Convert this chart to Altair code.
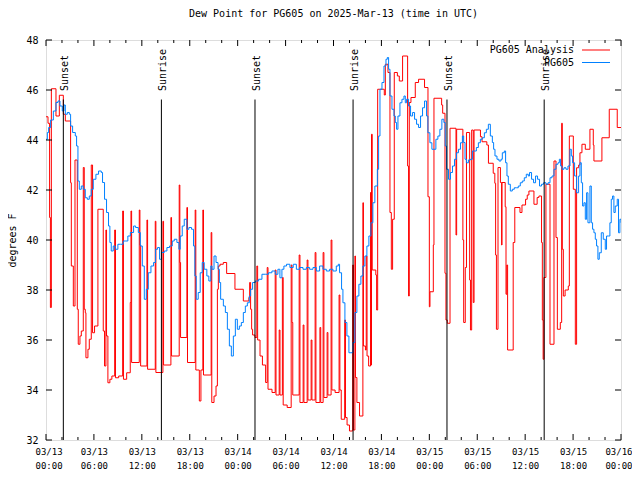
import altair as alt
import pandas as pd

FONT = "DejaVu Sans Mono"
title_text = "Dew Point for PG605 on 2025-Mar-13 (time in UTC)"
y_title = "degrees F"
series_names = ["PG605 Analysis", "PG605"]
series_colors = ["#ff0000", "#0080ff"]

x_tick_hours = list(range(0, 73, 6))
x_minor_hours = [h for h in range(0, 73, 2) if h % 6 != 0]
y_tick_values = list(range(32, 49, 2))

sun_hours = [2.17, 14.45, 26.17, 38.45, 50.21, 62.38]
sun_labels = ["Sunset", "Sunrise", "Sunset", "Sunrise", "Sunset", "Sunrise"]

red_t = [0.0, 0.25, 0.45, 0.55, 0.67, 1.25, 1.67, 2.17, 2.42, 3.08, 3.17, 3.42, 3.63, 3.92, 4.04, 4.25, 4.42, 4.67, 4.79, 4.92,
         5.0, 5.25, 5.42, 5.67, 5.83, 6.08, 6.5, 7.17, 7.33, 7.5, 7.58, 7.75, 8.0, 8.25, 8.6, 8.7, 9.1, 9.6, 9.7, 10.1,
         10.55, 10.64, 10.72, 11.68, 11.76, 11.85, 12.64, 12.72, 13.68, 13.76, 14.64, 14.72, 15.64, 15.72, 16.68, 16.76, 16.85,
         17.64, 17.72, 18.68, 18.76, 19.2, 19.4, 19.64, 19.72, 20.68, 20.76,
         21.04, 21.29, 21.46, 21.58, 21.79, 22.2, 22.62, 23.66, 24.71, 25.4, 25.5, 25.62, 25.75, 25.87, 26.17,
         26.4, 26.5, 26.8, 27.1, 27.5, 27.7, 27.8, 28.3, 28.7, 28.8, 29.2, 29.3, 29.6, 29.7, 30.2, 30.7, 30.8, 30.9,
         31.7, 31.8, 32.2, 32.3, 32.7, 32.8, 33.2, 33.3, 33.7, 33.8, 34.3, 34.4, 34.7, 34.8, 35.2, 35.3, 35.7, 35.8,
         36.2, 36.7, 36.8, 36.97, 37.4, 37.5, 37.7, 38.0, 38.4, 38.5, 38.68, 38.75, 38.93, 39.26, 39.68, 39.75, 40.0,
         40.1, 40.2, 40.4, 40.64, 40.7, 40.76, 40.85, 41.3, 41.4,
         41.53, 42.36, 42.49, 42.82, 43.07, 43.24, 43.4, 43.61, 44.0, 44.24, 44.65, 45.28, 45.4, 45.49, 45.7, 46.24,
         46.65, 47.4, 47.83, 48.0, 48.08, 48.5, 48.58, 49.54, 49.67, 49.96, 50.08, 50.25, 50.59, 51.34, 51.42, 52.2,
         52.3, 52.5, 52.65, 53.05, 53.15, 53.3, 53.5, 53.6, 54.4, 54.6, 55.2, 55.4, 56.0, 56.2, 56.3, 56.4, 56.6, 56.9,
         57.05, 57.1, 57.5, 57.6, 57.7, 57.8, 58.5, 58.7, 59.35, 59.6, 60.05, 60.26, 60.47, 61.1, 61.5, 61.72, 62.05,
         62.15, 62.25, 62.35, 62.6, 63.11, 63.61, 63.86, 64.03, 64.4, 64.57, 64.65, 64.78, 65.0, 65.4, 65.53, 66.03,
         66.28, 66.44, 66.7, 66.86, 67.11, 67.53, 68.11, 68.53, 68.61, 69.61, 70.53, 71.53, 72.0]
red_v = [44.93, 44.67, 40.9, 37.3, 46.05, 44.96, 45.79, 45.03, 44.76, 42.29, 38.96, 37.36, 43.2, 37.23, 35.83, 36.16, 36.36, 42.9, 37.23, 37.09,
         35.29, 35.63, 36.03, 43.0, 36.29, 36.56, 41.23, 36.36, 34.96, 40.4, 36.16, 34.29, 34.43, 34.56, 40.4, 34.49, 34.56, 41.16, 34.43, 34.69,
         37.5, 41.16, 35.1, 41.2, 39.8, 34.96, 40.8, 34.83, 40.75, 34.7, 40.75, 35.0, 40.9, 35.36, 42.2, 39.1, 36.1,
         41.3, 35.1, 41.2, 34.8, 33.56, 34.8, 41.2, 34.6, 40.3, 33.5,
         33.76, 34.16, 38.03, 38.96, 39.03, 39.1, 38.66, 38.03, 37.56, 37.7, 38.3, 37.23, 36.43, 36.2, 36.1,
         38.96, 36.0, 35.36, 35.0, 34.3, 38.9, 34.03, 33.9, 38.8, 33.8, 36.4, 33.8, 38.5, 33.4, 33.3, 39.0, 36.7, 33.8,
         39.4, 33.5, 36.6, 33.5, 39.2, 33.6, 36.0, 33.6, 39.5, 33.5, 36.5, 33.5, 39.5, 33.7, 36.3, 33.8, 40.0, 34.0,
         33.9, 37.8, 34.0, 32.83, 36.8, 32.9, 32.6, 32.36, 39.0, 32.4, 39.36, 34.5, 33.5, 32.96, 41.49, 35.76, 35.6,
         39.36, 35.36, 34.96, 41.9, 35.0, 44.23, 38.8, 38.6, 37.2,
         46.03, 45.8, 47.03, 46.7, 41.1, 38.83, 40.83, 46.7, 46.56, 46.36, 47.36, 42.96, 37.76, 45.5, 45.7, 46.3,
         46.43, 46.1, 41.73, 37.33, 37.93, 39.8, 45.67, 45.4, 45.07, 38.67, 36.8, 36.67, 44.47, 40.2, 44.43, 40.0,
         36.7, 38.9, 44.3, 38.4, 36.4, 44.4, 37.5, 44.4, 44.13, 43.93, 43.8, 43.07, 42.67, 42.27, 39.4, 36.43, 42.9, 42.3,
         39.8, 42.3, 41.33, 37.83, 39.0, 35.6, 39.9, 41.3, 41.1, 41.4, 41.63, 41.8, 41.96, 41.43, 41.7, 41.76, 39.9,
         36.8, 35.23, 38.5, 42.23, 35.83, 43.16, 40.1, 36.43, 36.7, 44.67, 39.63, 37.76, 38.0, 38.16, 44.16, 42.03,
         35.83, 42.89, 43.0, 43.49, 43.83, 43.63, 44.43, 43.8, 43.16, 44.09, 45.23, 44.5, 44.5]

blue_t = [0.0, 0.17, 0.33, 0.58, 0.92, 1.25, 1.5, 1.75, 2.04, 2.25, 2.42, 2.67, 2.92, 3.08, 3.33, 3.67, 3.83, 4.0, 4.17, 4.42,
          4.67, 4.92, 5.17, 5.42, 5.67, 5.92, 6.25, 6.58, 6.92, 7.08, 7.33, 7.58, 7.83, 8.0, 8.17, 8.42, 8.67, 9.0, 9.33, 9.67,
          10.0, 10.25, 10.56, 10.97, 11.22, 11.56, 11.81, 12.06, 12.31, 12.56, 12.81, 13.14, 13.47, 13.72, 13.97, 14.22, 14.47,
          14.81, 15.14, 15.47, 15.81, 16.06, 16.39, 16.64, 16.81, 17.06, 17.31, 17.64, 17.89, 18.22, 18.47, 18.64, 18.81, 19.06,
          19.31, 19.56, 19.81, 20.14, 20.39, 20.64, 20.79, 21.04, 21.29, 21.54, 21.71, 21.87, 22.21, 22.46, 22.71, 22.96, 23.21,
          23.46, 23.71, 23.96, 24.21, 24.46, 24.71, 24.96, 25.21, 25.46, 25.62, 25.87, 26.21, 26.62, 27.04, 27.46, 27.87, 28.29,
          28.71, 29.04, 29.29, 29.54, 29.79, 30.12, 30.54, 30.96, 31.35, 31.76, 32.18, 32.6, 33.01, 33.43, 33.85, 34.26, 34.68,
          35.1, 35.51, 35.93, 36.35, 36.6, 36.76, 37.01, 37.18, 37.43, 37.68, 37.93, 38.18, 38.43, 38.68, 38.93, 39.18, 39.43,
          39.68, 39.93, 40.18, 40.43, 40.68, 40.93, 41.18, 41.49, 41.65, 41.82, 42.07, 42.32, 42.57, 42.74, 42.9, 43.07, 43.32,
          43.57, 43.74, 43.9, 44.07, 44.32, 44.57, 44.82, 44.99, 45.15, 45.4, 45.65, 45.9, 46.15, 46.4, 46.65, 46.9, 47.15,
          47.4, 47.65, 47.82, 48.07, 48.32, 48.57, 48.82, 49.07, 49.32, 49.57, 49.82, 49.99, 50.15, 50.4, 50.65, 50.9, 51.15,
          51.4, 51.65, 51.9, 52.14, 52.3, 52.47, 52.64, 52.89, 53.14, 53.39, 53.64, 53.89, 54.14, 54.39, 54.64, 54.89, 55.14,
          55.39, 55.64, 55.89, 56.05, 56.22, 56.47, 56.72, 56.97, 57.14, 57.39, 57.55, 57.72, 57.89, 58.14, 58.39, 58.64,
          58.89, 59.14, 59.39, 59.64, 59.89, 60.14, 60.39, 60.55, 60.8, 61.05, 61.3, 61.55, 61.8, 62.05, 62.3, 62.61, 62.86,
          63.11, 63.36, 63.61, 63.86, 64.11, 64.28, 64.44, 64.61, 64.86, 65.11, 65.36, 65.61, 65.78, 65.94, 66.19, 66.44,
          66.69, 66.86, 67.03, 67.19, 67.36, 67.53, 67.69, 67.86, 68.11, 68.28, 68.44, 68.61, 68.78, 68.94, 69.11, 69.28,
          69.53, 69.78, 70.03, 70.19, 70.44, 70.61, 70.78, 70.94, 71.11, 71.28, 71.53, 71.69, 71.86, 72.0]
blue_v = [44.03, 44.3, 44.5, 44.8, 45.16, 45.5, 45.56, 45.36, 45.16, 45.4, 45.03, 45.1, 45.03, 44.56, 44.3, 44.16, 43.76, 42.36, 42.03, 42.16,
          42.03, 41.69, 41.63, 41.76, 42.03, 42.43, 42.63, 42.76, 42.7, 42.3, 41.63, 41.1, 40.56, 39.9, 39.56, 39.76, 39.63, 39.83, 39.83, 39.96,
          39.96, 40.16, 40.3, 40.56, 40.5, 40.3, 39.76, 38.96, 37.63, 38.03, 38.69, 38.96, 39.1, 39.63, 39.7, 39.23, 39.5,
          39.56, 39.7, 39.76, 39.96, 40.03, 39.9, 39.63, 40.16, 40.56, 40.83, 40.43, 40.5, 40.43, 39.76, 38.56, 37.63, 37.9,
          38.69, 39.1, 38.83, 38.56, 38.36, 38.96, 38.83, 39.36, 39.1, 38.83, 38.3, 37.63, 37.36, 37.1, 36.43, 35.76, 35.36,
          36.16, 36.83, 36.43, 36.56, 36.7, 37.1, 37.36, 37.49, 37.76, 38.03, 38.3, 38.36, 38.43, 38.63, 38.63, 38.69, 38.76,
          38.63, 38.83, 38.49, 38.83, 38.96, 39.03, 38.9, 39.03, 38.83, 38.9, 38.83, 38.9, 38.83, 38.9, 38.76, 38.96, 38.83,
          38.76, 38.83, 38.76, 38.96, 39.03, 38.69, 38.03, 37.49, 36.7, 36.16, 35.49, 35.49, 35.9, 37.1, 37.76, 38.23, 38.56,
          38.96, 39.36, 39.76, 40.16, 40.69, 41.49, 42.16, 42.83, 44.16, 46.03, 46.3, 46.96, 47.23, 47.3, 46.83, 45.76, 45.23,
          44.96, 44.7, 44.43, 44.96, 45.49, 45.63, 45.76, 45.49, 45.63, 45.36, 44.96, 45.1, 44.83, 44.63, 44.5, 44.96, 45.29,
          45.56, 44.96, 44.29, 43.89, 43.63, 43.63, 44.03, 44.16, 44.43, 44.83, 44.7, 43.76, 42.83, 42.43, 42.7, 42.96, 43.23,
          43.49, 43.63, 43.89, 44.16, 43.9, 43.23, 43.09, 43.2, 43.23, 43.56, 43.56, 43.7, 43.89, 44.03, 44.09, 44.29, 44.43,
          44.63, 44.16, 43.9, 43.63, 43.36, 43.23, 43.16, 43.23, 43.49, 43.56, 43.09, 42.56, 42.23, 41.96, 42.03, 42.09,
          42.09, 42.16, 42.29, 42.36, 42.49, 42.63, 42.56, 42.7, 42.43, 42.29, 42.56, 42.43, 42.16, 42.23, 42.29, 42.23, 42.29,
          42.49, 42.56, 42.83, 43.03, 43.09, 43.23, 42.96, 42.83, 42.89, 42.83, 42.96, 43.63, 43.36, 43.09, 42.56, 41.89,
          42.56, 43.09, 42.29, 41.36, 41.49, 40.83, 41.89, 40.69, 42.16, 40.69, 40.43, 40.29, 40.03, 39.76, 39.23, 39.49,
          40.29, 40.03, 39.63, 40.16, 40.16, 40.69, 41.63, 41.76, 41.1, 41.36, 41.63, 40.29, 40.83, 40.69]

W, H = 575, 400
red_df = pd.DataFrame({"t": red_t, "v": red_v})
blue_df = pd.DataFrame({"t": blue_t, "v": blue_v})
sun_df = pd.DataFrame({"t": sun_hours, "label": sun_labels})
xmaj_df = pd.DataFrame({"t": x_tick_hours})
xmin_df = pd.DataFrame({"t": x_minor_hours})
ytick_df = pd.DataFrame({"v": y_tick_values})
one = pd.DataFrame({"k": [0]})

xs = alt.Scale(domain=[0, 72], nice=False, zero=False)
ys = alt.Scale(domain=[32, 48], nice=False, zero=False)

label_expr = ("['03/' + (13 + floor(datum.value / 24)), "
              "(datum.value % 24 < 10 ? '0' : '') + (datum.value % 24) + ':00']")

x_axis = alt.Axis(values=x_tick_hours, labelExpr=label_expr, ticks=False, domain=False, grid=False,
                  labelPadding=7, labelFont=FONT, labelFontSize=9, labelLineHeight=14,
                  labelFlush=True, labelFlushOffset=11, labelOverlap=False, labelAngle=0, labelBaseline="top",
                  labelColor="black", labelBound=False, title=None)
y_axis = alt.Axis(values=y_tick_values, ticks=False, domain=False, grid=False, labelPadding=8,
                  labelFont=FONT, labelFontSize=10, labelColor="black", title=y_title,
                  titleFont=FONT, titleFontSize=10, titleFontWeight="normal", titleColor="black",
                  titleX=-34, titleY=200, titleAngle=270, titleAlign="center", titleBaseline="middle")


def X(field="t:Q"):
    return alt.X(field, scale=xs, axis=x_axis)


def Y(field="v:Q"):
    return alt.Y(field, scale=ys, axis=y_axis)


red = alt.Chart(red_df).mark_line(interpolate="step-after", color=series_colors[0], strokeWidth=1, clip=True).encode(
    x=X(), y=Y())
blue = alt.Chart(blue_df).mark_line(interpolate="step-after", color=series_colors[1], strokeWidth=1, clip=True).encode(
    x=X(), y=Y())
sun_rules = alt.Chart(sun_df).mark_rule(color="black", strokeWidth=1).encode(
    x=X(),
    y=alt.YDatum(32, scale=ys, axis=y_axis),
    y2=alt.Y2Datum(45.62),
)
sun_text = alt.Chart(sun_df).mark_text(angle=270, align="left", baseline="middle", font=FONT,
                                       fontSize=10, color="black", dx=0, dy=2).encode(
    x=X(),
    y=alt.YDatum(45.96, scale=ys, axis=y_axis),
    text="label:N",
)
xmaj_bot = alt.Chart(xmaj_df).mark_rule(color="black").encode(x=X(), y=alt.value(H), y2=alt.value(H - 6))
xmaj_top = alt.Chart(xmaj_df).mark_rule(color="black").encode(x=X(), y=alt.value(0), y2=alt.value(6))
xmin_bot = alt.Chart(xmin_df).mark_rule(color="black").encode(x=X(), y=alt.value(H), y2=alt.value(H - 3))
xmin_top = alt.Chart(xmin_df).mark_rule(color="black").encode(x=X(), y=alt.value(0), y2=alt.value(3))
y_left = alt.Chart(ytick_df).mark_rule(color="black").encode(y=Y(), x=alt.value(0), x2=alt.value(6))
y_right = alt.Chart(ytick_df).mark_rule(color="black").encode(y=Y(), x=alt.value(W - 6), x2=alt.value(W))

leg_layers = []
for i, (name, col) in enumerate(zip(series_names, series_colors)):
    yy = 10 + 12.5 * i
    leg_layers.append(alt.Chart(one).mark_text(align="right", baseline="middle", font=FONT, fontSize=10,
                                               color="black").encode(
        x=alt.value(528), y=alt.value(yy), text=alt.value(name)))
    leg_layers.append(alt.Chart(one).mark_rule(color=col, strokeWidth=1).encode(
        x=alt.value(536), x2=alt.value(564), y=alt.value(yy)))

chart = alt.layer(red, blue, sun_rules, sun_text, xmaj_bot, xmaj_top, xmin_bot, xmin_top, y_left, y_right,
                  *leg_layers).properties(
    width=W, height=H,
    title=alt.Title(title_text, font=FONT, fontSize=10, fontWeight="normal", color="black", offset=16),
    autosize=alt.AutoSizeParams(type="none"),
    padding={"left": 38, "top": 32, "right": 11, "bottom": 40},
).configure_view(stroke="black", strokeWidth=1).configure(background="white")

chart.save("out.html", embed_options={"renderer": "svg", "actions": False})
